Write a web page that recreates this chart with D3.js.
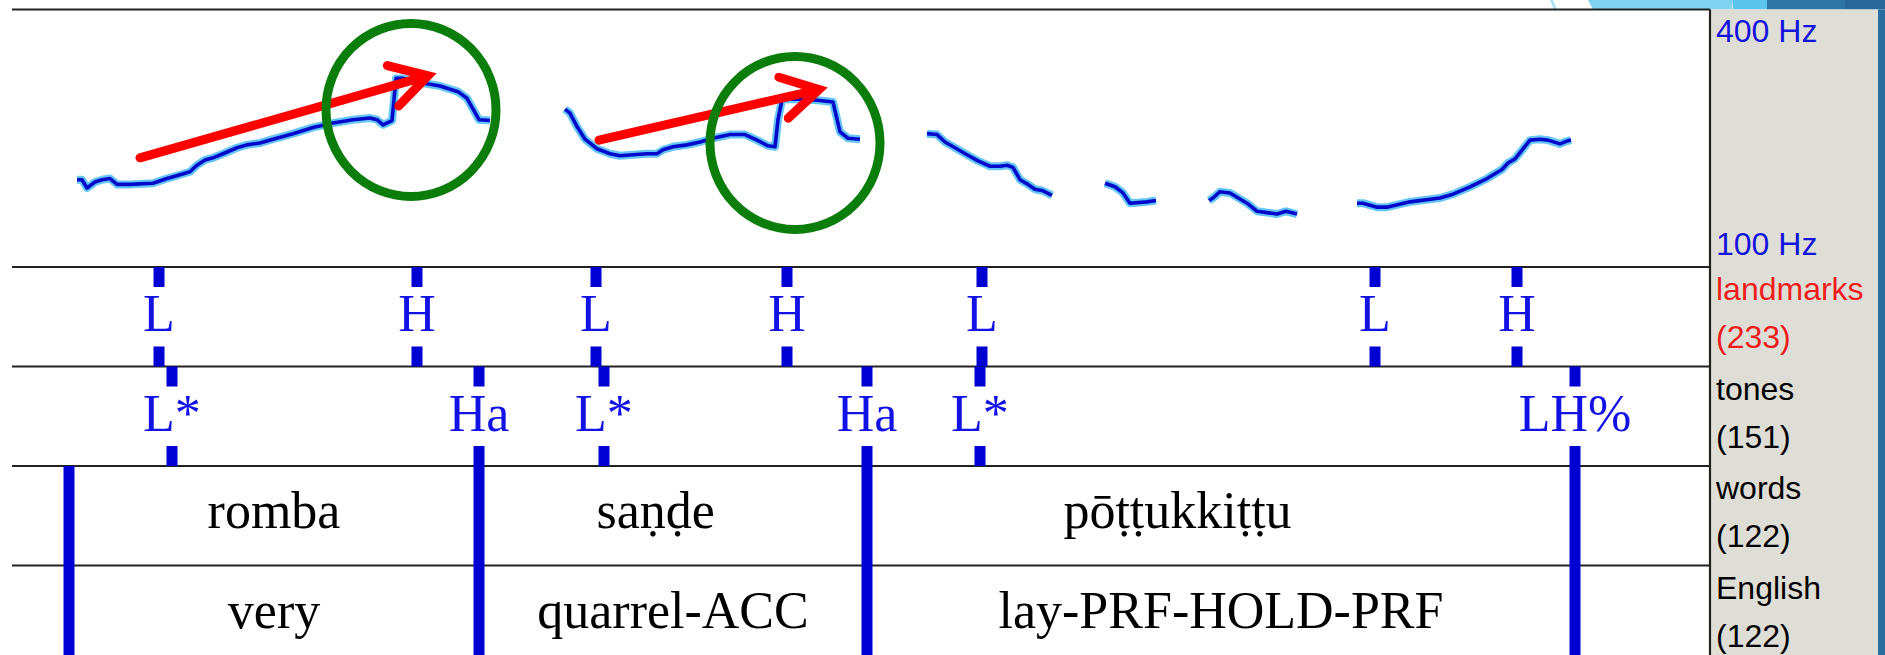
<!DOCTYPE html>
<html>
<head>
<meta charset="utf-8">
<script src="https://cdn.jsdelivr.net/npm/d3@7"></script>
<style>
  body { margin: 0; background: #fff; overflow: hidden; }
  svg { display: block; }
</style>
</head>
<body>
<div id="chart"></div>
<script>
// f0 track, one array per voiced stretch: [time (s), f0 (Hz)]
const pitchSeg1 = [[0.065,160],[0.070,160],[0.075,153],[0.083,158],[0.090,160],[0.098,161],[0.105,156],[0.118,156],[0.141,157],[0.155,161],[0.163,163],[0.178,167],[0.185,173],[0.193,178],[0.201,180],[0.211,184],[0.225,190],[0.235,193],[0.248,195],[0.261,199],[0.281,205],[0.301,212],[0.321,217],[0.341,221],[0.358,223],[0.365,221],[0.371,215],[0.380,220],[0.384,276],[0.391,276],[0.408,270],[0.428,265],[0.446,257],[0.455,248],[0.467,221],[0.478,220]]
const pitchSeg2 = [[0.553,234],[0.558,229],[0.565,213],[0.573,199],[0.585,189],[0.598,184],[0.608,182],[0.621,183],[0.635,184],[0.645,184],[0.651,188],[0.661,191],[0.675,193],[0.688,196],[0.701,200],[0.718,204],[0.733,204],[0.745,198],[0.756,192],[0.763,191],[0.766,221],[0.770,246],[0.781,247],[0.798,246],[0.808,245],[0.821,243],[0.828,207],[0.836,200],[0.848,199]]
const pitchSeg3 = [[0.915,205],[0.925,204],[0.933,196],[0.943,190],[0.955,183],[0.966,177],[0.978,172],[0.988,172],[0.995,173],[1.001,171],[1.008,160],[1.016,156],[1.023,152],[1.030,151],[1.040,147]]
const pitchSeg4 = [[1.093,157],[1.103,154],[1.111,149],[1.118,141],[1.135,142],[1.144,143]]
const pitchSeg5 = [[1.197,143],[1.201,145],[1.208,150],[1.218,149],[1.235,141],[1.245,135],[1.255,134],[1.265,133],[1.274,135],[1.285,133]]
const pitchSeg6 = [[1.345,141],[1.351,141],[1.365,138],[1.375,138],[1.398,142],[1.428,145],[1.441,148],[1.458,154],[1.475,161],[1.490,169],[1.496,175],[1.503,179],[1.518,198],[1.528,199],[1.536,198],[1.548,194],[1.555,197],[1.559,198]]

// tiers
const landmarkLabels = ['L', 'H', 'L', 'H', 'L', 'L', 'H']
const landmarkTimes = [0.147, 0.405, 0.584, 0.775, 0.970, 1.363, 1.505]
const toneLabels = ['L*', 'Ha', 'L*', 'Ha', 'L*', 'LH%']
const toneTimes = [0.160, 0.467, 0.592, 0.855, 0.968, 1.563]
const wordBounds = [0.057, 0.467, 0.855, 1.563]
const words = ['romba', 'saṇḍe', 'pōṭṭukkiṭṭu']
const glosses = ['very', 'quarrel-ACC', 'lay-PRF-HOLD-PRF']

// side panel
const freqDomain = [100, 400]
const freqLabels = ['400 Hz', '100 Hz']
const tierNames = ['landmarks', 'tones', 'words', 'English']
const tierCounts = ['(233)', '(151)', '(122)', '(122)']

// annotations drawn over the f0 panel: [time, Hz]
const arrowStarts = [[0.128, 180], [0.587, 198]]
const arrowEnds = [[0.416, 280], [0.807, 260]]
const circleCentres = [[0.399, 233], [0.783, 195]]

const dimensions = {
  width: 1885,
  height: 655,
  left: 12,
  right: 1710,
  top: 9.5,
  pitchBottom: 267,
  rowHeight: 99.5,
  panelRight: 1878
}
const rowTop = (i) => dimensions.pitchBottom + i * dimensions.rowHeight

const svg = d3.select('#chart')
  .append('svg')
  .attr('width', dimensions.width)
  .attr('height', dimensions.height)

// scales
const xScale = d3.scaleLinear()
  .domain([0, 1.698])
  .range([dimensions.left, dimensions.right])

const yScale = d3.scaleLog()
  .domain(freqDomain)
  .range([dimensions.pitchBottom, dimensions.top])

// slide decoration in the top right corner
const deco = svg.append('g')
deco.append('polygon').attr('points', '1550,0 1553,0 1557,9.5 1554,9.5').attr('fill', '#a9e1f6')
deco.append('polygon').attr('points', '1588,0 1733,0 1732,9.5 1593,9.5').attr('fill', '#7fd2f0')
deco.append('rect').attr('x', 1733).attr('y', 0).attr('width', 34).attr('height', 9.5).attr('fill', '#5cc4ea')
deco.append('rect').attr('x', 1767).attr('y', 0).attr('width', 78).attr('height', 9.5).attr('fill', '#2e74a5')
deco.append('rect').attr('x', 1845).attr('y', 0).attr('width', 40).attr('height', 9.5).attr('fill', '#27679a')

// grey label panel
svg.append('rect')
  .attr('x', dimensions.right)
  .attr('y', dimensions.top)
  .attr('width', dimensions.panelRight - dimensions.right)
  .attr('height', dimensions.height - dimensions.top)
  .attr('fill', '#dfded6')
svg.append('rect')
  .attr('x', dimensions.panelRight)
  .attr('y', dimensions.top)
  .attr('width', dimensions.width - dimensions.panelRight)
  .attr('height', dimensions.height - dimensions.top)
  .attr('fill', '#2a6c9d')

// frame lines
const frame = svg.append('g').attr('stroke', '#222').attr('stroke-width', 2.2)
frame.append('line')
  .attr('x1', dimensions.left).attr('x2', dimensions.right)
  .attr('y1', dimensions.top).attr('y2', dimensions.top)
frame.selectAll('.row-line')
  .data(d3.range(4))
  .join('line')
  .attr('class', 'row-line')
  .attr('x1', dimensions.left).attr('x2', dimensions.right)
  .attr('y1', (d) => rowTop(d)).attr('y2', (d) => rowTop(d))
frame.append('line')
  .attr('x1', dimensions.right).attr('x2', dimensions.right)
  .attr('y1', dimensions.top).attr('y2', dimensions.height)

// f0 track: light halo plus dark core
const line = d3.line()
  .x((d) => xScale(d[0]))
  .y((d) => yScale(d[1]))
const segments = [pitchSeg1, pitchSeg2, pitchSeg3, pitchSeg4, pitchSeg5, pitchSeg6]

svg.append('g')
  .selectAll('path')
  .data(segments)
  .join('path')
  .attr('d', line)
  .attr('fill', 'none')
  .attr('stroke', '#3fb6f2')
  .attr('stroke-opacity', 0.8)
  .attr('stroke-width', 8)
  .attr('stroke-linejoin', 'round')

svg.append('g')
  .selectAll('path')
  .data(segments)
  .join('path')
  .attr('d', line)
  .attr('fill', 'none')
  .attr('stroke', '#0008cc')
  .attr('stroke-width', 3.6)
  .attr('stroke-linejoin', 'round')

// red arrows
const arrows = svg.append('g')
  .attr('stroke', '#ff0000')
  .attr('stroke-width', 9)
  .attr('fill', 'none')
arrowStarts.forEach((s, i) => {
  const x1 = xScale(s[0]), y1 = yScale(s[1])
  const x2 = xScale(arrowEnds[i][0]), y2 = yScale(arrowEnds[i][1])
  const back = Math.atan2(y1 - y2, x1 - x2)
  const spread = 30 * Math.PI / 180
  const len = 42
  arrows.append('line')
    .attr('x1', x1).attr('y1', y1)
    .attr('x2', x2 + 8 * Math.cos(back)).attr('y2', y2 + 8 * Math.sin(back))
    .attr('stroke-linecap', 'round')
  arrows.append('path')
    .attr('d', `M${x2 + len * Math.cos(back + spread)},${y2 + len * Math.sin(back + spread)}` +
      `L${x2},${y2}` +
      `L${x2 + len * Math.cos(back - spread)},${y2 + len * Math.sin(back - spread)}`)
    .attr('stroke-linecap', 'round')
    .attr('stroke-linejoin', 'miter')
    .attr('stroke-miterlimit', 10)
})

// green circles
svg.append('g')
  .selectAll('ellipse')
  .data(circleCentres)
  .join('ellipse')
  .attr('cx', (d) => xScale(d[0]))
  .attr('cy', (d) => yScale(d[1]))
  .attr('rx', 85)
  .attr('ry', 86.5)
  .attr('fill', 'none')
  .attr('stroke', '#0a7d0a')
  .attr('stroke-width', 9)

// tick marks with labels (landmarks, tones)
const tickW = 11
const tickLen = 20
const serif = '"Liberation Serif", "Times New Roman", serif'

function drawTier(row, times, labels) {
  const top = rowTop(row)
  const bottom = rowTop(row + 1)
  const g = svg.append('g')
  g.selectAll('.tick-top')
    .data(times)
    .join('rect')
    .attr('x', (d) => xScale(d) - tickW / 2)
    .attr('y', top)
    .attr('width', tickW)
    .attr('height', tickLen)
    .attr('fill', '#0000d2')
  g.selectAll('.tick-bottom')
    .data(times)
    .join('rect')
    .attr('x', (d) => xScale(d) - tickW / 2)
    .attr('y', bottom - tickLen)
    .attr('width', tickW)
    .attr('height', tickLen)
    .attr('fill', '#0000d2')
  g.selectAll('text')
    .data(labels)
    .join('text')
    .attr('x', (d, i) => xScale(times[i]))
    .attr('y', top + 64)
    .attr('text-anchor', 'middle')
    .attr('font-family', serif)
    .attr('font-size', 52)
    .attr('fill', '#1212e6')
    .text((d) => d)
}
drawTier(0, landmarkTimes, landmarkLabels)
drawTier(1, toneTimes, toneLabels)

// word boundaries run through words and English rows
svg.append('g')
  .selectAll('rect')
  .data(wordBounds)
  .join('rect')
  .attr('x', (d) => xScale(d) - tickW / 2)
  .attr('y', rowTop(2))
  .attr('width', tickW)
  .attr('height', dimensions.height - rowTop(2))
  .attr('fill', '#0000d2')

// centre offset for combining marks, as the original tool does
const combShift = (w) => (w.normalize('NFD').match(/[\u0300-\u036f]/g) || []).length * 8.7

function drawWords(row, labels) {
  svg.append('g')
    .selectAll('text')
    .data(labels)
    .join('text')
    .attr('x', (d, i) => (xScale(wordBounds[i]) + xScale(wordBounds[i + 1])) / 2 - combShift(d))
    .attr('y', rowTop(row) + 62)
    .attr('text-anchor', 'middle')
    .attr('font-family', serif)
    .attr('font-size', 52)
    .attr('fill', '#000')
    .text((d) => d)
}
drawWords(2, words)
drawWords(3, glosses)

// side labels
const sans = '"Liberation Sans", Arial, sans-serif'
const side = svg.append('g')
  .attr('font-family', sans)
  .attr('font-size', 32)

side.selectAll('.freq')
  .data(freqLabels)
  .join('text')
  .attr('class', 'freq')
  .attr('x', 1716)
  .attr('y', (d, i) => i === 0 ? 42 : 255)
  .attr('fill', '#1414dc')
  .text((d) => d)

side.selectAll('.tier-name')
  .data(tierNames)
  .join('text')
  .attr('class', 'tier-name')
  .attr('x', 1716)
  .attr('y', (d, i) => rowTop(i) + 33)
  .attr('fill', (d, i) => i === 0 ? '#ee1c1c' : '#000')
  .text((d) => d)

side.selectAll('.tier-count')
  .data(tierCounts)
  .join('text')
  .attr('class', 'tier-count')
  .attr('x', 1716)
  .attr('y', (d, i) => rowTop(i) + 81)
  .attr('fill', (d, i) => i === 0 ? '#ee1c1c' : '#000')
  .text((d) => d)
</script>
</body>
</html>
